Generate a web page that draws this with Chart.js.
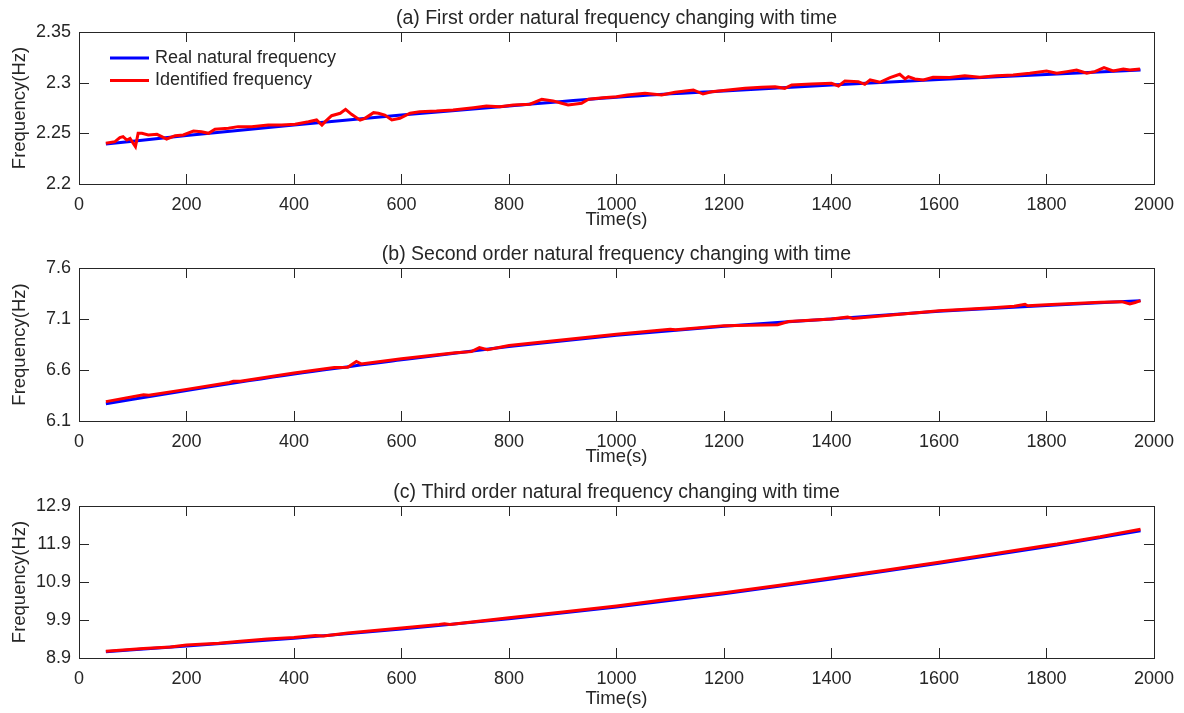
<!DOCTYPE html>
<html lang="en">
<head>
<meta charset="UTF-8">
<title>Natural frequency changing with time</title>
<style>
  body { margin: 0; background: #fff; }
  .panel { position: absolute; left: 0; width: 1184px; }
  #wrapA { top: 0; height: 237px; }
  #wrapB { top: 237px; height: 237px; }
  #wrapC { top: 474px; height: 239px; }
</style>
</head>
<body>
<div class="panel" id="wrapA"><canvas id="chartA" width="1184" height="237"></canvas></div>
<div class="panel" id="wrapB"><canvas id="chartB" width="1184" height="237"></canvas></div>
<div class="panel" id="wrapC"><canvas id="chartC" width="1184" height="239"></canvas></div>

<script src="https://cdn.jsdelivr.net/npm/chart.js"></script>
<script>
// shared x axis
const timeTicks = [0, 200, 400, 600, 800, 1000, 1200, 1400, 1600, 1800, 2000];

// (a) first order
const realTimeA = [50, 200, 400, 600, 800, 1000, 1200, 1400, 1600, 1800, 1975];
const realFreqA = [2.2395, 2.2478, 2.2582, 2.2680, 2.2770, 2.2856, 2.2918, 2.2976, 2.3031, 2.3081, 2.3125];
const identTimeA = [50, 67, 76, 82, 89, 95, 101, 105, 110, 117, 129, 145, 154, 163, 179, 194, 213, 228, 241, 253,
  278, 296, 321, 352, 377, 402, 427, 442, 452, 458, 470, 486, 496, 507, 523, 532, 548, 557, 569, 582,
  597, 616, 634, 665, 696, 734, 758, 783, 808, 839, 861, 882, 898, 910, 935, 948, 975, 1000, 1020, 1053,
  1084, 1109, 1143, 1161, 1177, 1208, 1239, 1270, 1295, 1313, 1326, 1363, 1400, 1413, 1425, 1450, 1462, 1472, 1490, 1509,
  1527, 1537, 1543, 1555, 1571, 1589, 1620, 1648, 1676, 1707, 1738, 1769, 1800, 1819, 1838, 1856, 1875, 1890, 1907, 1924,
  1943, 1955, 1974];
const identFreqA = [2.2402, 2.2418, 2.2457, 2.2467, 2.2434, 2.2450, 2.2400, 2.2368, 2.2500, 2.2500, 2.2484, 2.2490, 2.2467, 2.2444, 2.2477, 2.2484, 2.2523, 2.2516, 2.2500, 2.2540,
  2.2550, 2.2566, 2.2566, 2.2582, 2.2582, 2.2590, 2.2615, 2.2632, 2.2582, 2.2615, 2.2674, 2.2698, 2.2737, 2.2688, 2.2630, 2.2648, 2.2704, 2.2698, 2.2680, 2.2632,
  2.2648, 2.2698, 2.2714, 2.2720, 2.2730, 2.2753, 2.2770, 2.2763, 2.2780, 2.2787, 2.2836, 2.2820, 2.2797, 2.2780, 2.2797, 2.2836, 2.2852, 2.2862, 2.2879, 2.2895,
  2.2879, 2.2905, 2.2928, 2.2888, 2.2911, 2.2928, 2.2944, 2.2954, 2.2960, 2.2944, 2.2977, 2.2987, 2.2994, 2.2967, 2.3017, 2.3010, 2.2984, 2.3027, 2.3004, 2.3050,
  2.3083, 2.3037, 2.3060, 2.3037, 2.3027, 2.3053, 2.3050, 2.3069, 2.3053, 2.3069, 2.3076, 2.3093, 2.3115, 2.3093, 2.3109, 2.3125, 2.3093, 2.3109, 2.3148, 2.3115,
  2.3135, 2.3125, 2.3135];
const freqTicksA = [2.2, 2.25, 2.3, 2.35];

// (b) second order
const realTimeB = [50, 200, 400, 600, 800, 1000, 1200, 1400, 1600, 1800, 1975];
const realFreqB = [6.270, 6.400, 6.561, 6.700, 6.830, 6.940, 7.030, 7.100, 7.175, 7.233, 7.279];
const identTimeB = [50, 120, 130, 200, 280, 287, 300, 400, 475, 500, 516, 525, 600, 700, 730, 745, 760, 800, 1000, 1100,
  1110, 1200, 1300, 1320, 1400, 1430, 1440, 1600, 1700, 1740, 1760, 1765, 1800, 1900, 1940, 1955, 1965, 1975];
const identFreqB = [6.290, 6.358, 6.352, 6.410, 6.478, 6.490, 6.490, 6.570, 6.625, 6.628, 6.684, 6.660, 6.711, 6.770, 6.780, 6.820, 6.800, 6.840, 6.950, 7.000,
  6.995, 7.035, 7.044, 7.075, 7.100, 7.120, 7.105, 7.180, 7.210, 7.225, 7.245, 7.230, 7.240, 7.265, 7.270, 7.247, 7.262, 7.280];
const freqTicksB = [6.1, 6.6, 7.1, 7.6];

// (c) third order
const realTimeC = [50, 200, 400, 600, 800, 1000, 1200, 1400, 1600, 1800, 1975];
const realFreqC = [9.066, 9.217, 9.420, 9.660, 9.930, 10.240, 10.590, 10.980, 11.390, 11.830, 12.250];
const identTimeC = [50, 120, 170, 200, 260, 300, 350, 400, 430, 440, 455, 500, 600, 670, 680, 690, 800, 900, 1000, 1100,
  1200, 1300, 1400, 1500, 1600, 1700, 1720, 1800, 1820, 1900, 1925, 1975];
const identFreqC = [9.080, 9.150, 9.190, 9.240, 9.290, 9.340, 9.400, 9.440, 9.480, 9.495, 9.480, 9.560, 9.690, 9.780, 9.800, 9.785, 9.960, 10.110, 10.270, 10.450,
  10.620, 10.810, 11.010, 11.210, 11.420, 11.640, 11.680, 11.860, 11.900, 12.090, 12.160, 12.290];
const freqTicksC = [8.9, 9.9, 10.9, 11.9, 12.9];

const ink = '#262626';
const family = '"Liberation Sans", Arial, Helvetica, sans-serif';

function pairs(xs, ys) {
  return xs.map((x, i) => ({ x: x, y: ys[i] }));
}

// box, inward ticks on all four sides, title and (optionally) legend
const matlabAxes = {
  id: 'matlabAxes',
  afterDraw(chart, args, opts) {
    const { ctx, chartArea: a, scales } = chart;
    const len = 10;
    ctx.save();
    ctx.strokeStyle = ink;
    ctx.lineWidth = 1;
    ctx.beginPath();
    scales.x.ticks.forEach(t => {
      const px = Math.round(scales.x.getPixelForValue(t.value)) + 0.5;
      ctx.moveTo(px, a.bottom); ctx.lineTo(px, a.bottom - len);
      ctx.moveTo(px, a.top); ctx.lineTo(px, a.top + len);
    });
    scales.y.ticks.forEach(t => {
      const py = Math.round(scales.y.getPixelForValue(t.value)) + 0.5;
      ctx.moveTo(a.left, py); ctx.lineTo(a.left + len, py);
      ctx.moveTo(a.right, py); ctx.lineTo(a.right - len, py);
    });
    ctx.stroke();
    ctx.strokeRect(Math.round(a.left) + 0.5, Math.round(a.top) + 0.5,
      Math.round(a.right - a.left), Math.round(a.bottom - a.top));

    ctx.fillStyle = ink;
    ctx.font = '19.5px ' + family;
    ctx.textAlign = 'center';
    ctx.textBaseline = 'middle';
    ctx.fillText(opts.title, (a.left + a.right) / 2, a.top - 13);

    if (opts.legend) {
      ctx.textAlign = 'left';
      ctx.font = '18px ' + family;
      const rows = [chart.data.datasets[1], chart.data.datasets[0]];
      rows.forEach((ds, i) => {
        const y = a.top + 26 + i * 22.5;
        ctx.strokeStyle = ds.borderColor;
        ctx.lineWidth = 3;
        ctx.beginPath();
        ctx.moveTo(a.left + 31, y);
        ctx.lineTo(a.left + 70, y);
        ctx.stroke();
        ctx.fillStyle = ink;
        ctx.fillText(ds.label, a.left + 76, y);
      });
    }
    ctx.restore();
  }
};

function makePanel(id, cfg) {
  return new Chart(document.getElementById(id), {
    type: 'line',
    data: {
      datasets: [
        {
          label: 'Identified frequency',
          data: pairs(cfg.identT, cfg.identF),
          borderColor: '#ff0000',
          borderWidth: 3,
          pointRadius: 0,
          tension: 0,
          order: 0
        },
        {
          label: 'Real natural frequency',
          data: pairs(cfg.realT, cfg.realF),
          borderColor: '#0000ff',
          borderWidth: 3,
          pointRadius: 0,
          cubicInterpolationMode: 'monotone',
          order: 1
        }
      ]
    },
    options: {
      responsive: false,
      animation: false,
      events: [],
      layout: { padding: { top: cfg.top, right: 30, bottom: 0, left: 0 } },
      scales: {
        x: {
          type: 'linear',
          min: 0,
          max: 2000,
          afterBuildTicks: s => { s.ticks = timeTicks.map(v => ({ value: v })); },
          afterFit: s => { s.height = cfg.xHeight; },
          grid: { display: false, drawTicks: false },
          border: { display: false },
          ticks: {
            color: ink,
            font: { family: family, size: 18 },
            padding: 10,
            maxRotation: 0,
            autoSkip: false,
            callback: v => String(v)
          },
          title: {
            display: true,
            text: 'Time(s)',
            color: ink,
            font: { family: family, size: 18.5 },
            padding: { top: 0, bottom: cfg.xTitlePad }
          }
        },
        y: {
          type: 'linear',
          min: cfg.yTicks[0],
          max: cfg.yTicks[cfg.yTicks.length - 1],
          afterBuildTicks: s => { s.ticks = cfg.yTicks.map(v => ({ value: v })); },
          afterFit: s => { s.width = 79; },
          grid: { display: false, drawTicks: false },
          border: { display: false },
          ticks: {
            color: ink,
            font: { family: family, size: 18 },
            padding: 8,
            callback: v => String(v)
          },
          title: {
            display: true,
            text: 'Frequency(Hz)',
            color: ink,
            font: { family: family, size: 18.5 },
            padding: { top: 9, bottom: 0 }
          }
        }
      },
      plugins: {
        legend: { display: false },
        tooltip: { enabled: false },
        matlabAxes: { title: cfg.title, legend: cfg.legend }
      }
    },
    plugins: [matlabAxes]
  });
}

makePanel('chartA', {
  title: '(a) First order natural frequency changing with time',
  legend: true,
  realT: realTimeA, realF: realFreqA, identT: identTimeA, identF: identFreqA,
  yTicks: freqTicksA, top: 32, xHeight: 53, xTitlePad: 6
});
makePanel('chartB', {
  title: '(b) Second order natural frequency changing with time',
  legend: false,
  realT: realTimeB, realF: realFreqB, identT: identTimeB, identF: identFreqB,
  yTicks: freqTicksB, top: 31, xHeight: 53, xTitlePad: 6
});
makePanel('chartC', {
  title: '(c) Third order natural frequency changing with time',
  legend: false,
  realT: realTimeC, realF: realFreqC, identT: identTimeC, identF: identFreqC,
  yTicks: freqTicksC, top: 32, xHeight: 55, xTitlePad: 3
});
</script>
</body>
</html>
